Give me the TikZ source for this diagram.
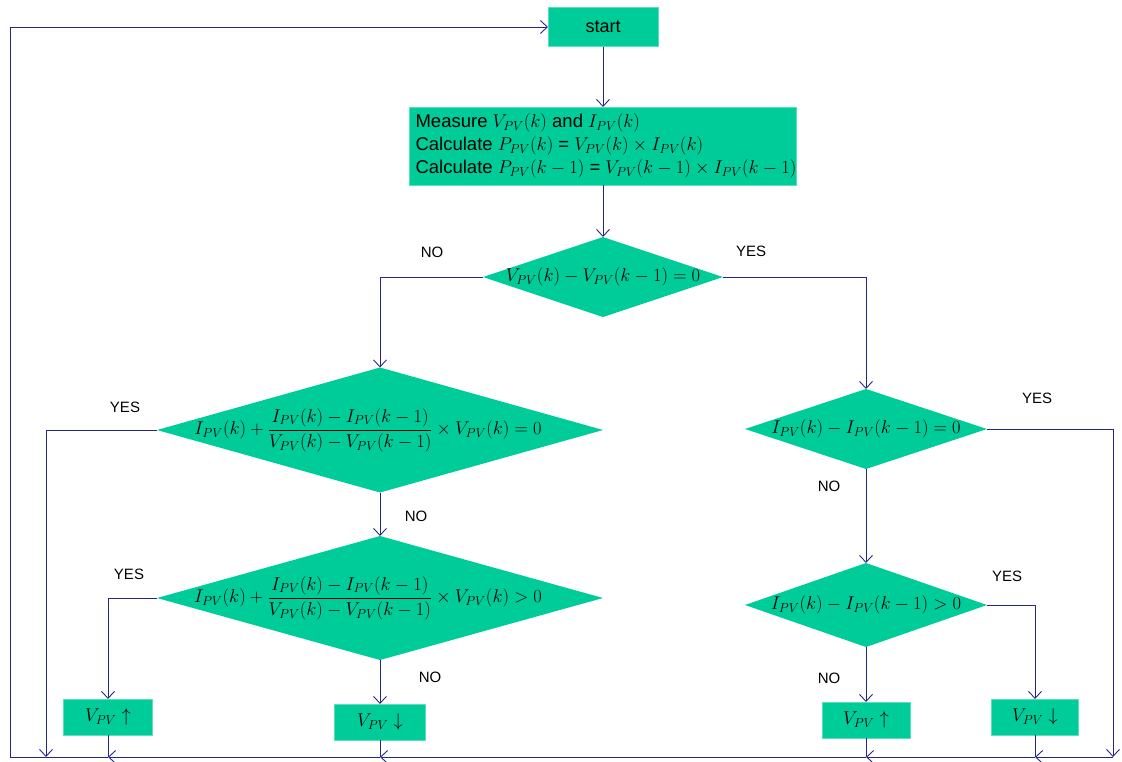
\documentclass[tikz,border=0pt]{standalone}
\usepackage{fix-cm}
\usepackage{amsmath}
\usepackage{fontspec}
\setmainfont{Liberation Sans}
\usetikzlibrary{shapes.geometric,arrows.meta}
\definecolor{boxgreen}{RGB}{0,204,153}
\definecolor{edgegreen}{RGB}{90,222,188}
\definecolor{linkblue}{RGB}{38,38,135}
\tikzset{font={\fontsize{18pt}{23pt}\selectfont}}
\tikzset{
  block/.style={fill=boxgreen, draw=edgegreen, line width=0.6pt, inner sep=0pt, outer sep=0pt},
  decide/.style={diamond, fill=boxgreen, inner sep=0pt, outer sep=0pt},
  formula/.style={font={\fontsize{18.5pt}{23pt}\selectfont}},
  link/.style={draw=linkblue, line width=0.9pt},
  flow/.style={link, -{Straight Barb[length=7pt,width=13pt]}},
  answer/.style={font={\fontsize{15pt}{18pt}\selectfont}},
}

\begin{document}
\begin{tikzpicture}[x=1pt,y=-1pt]
  \useasboundingbox (0,0) rectangle (1122,761);
  %boxes
  \node[block, minimum width=110pt, minimum height=39pt] (start) at (603,27) {start};
  \node[block, minimum width=387pt, minimum height=78pt, align=left,
    font={\fontsize{18.5pt}{23pt}\selectfont}] (meas) at (603,146)
    {\hspace*{6pt}Measure $V_{PV}(k)$ and $I_{PV}(k)$\\
     \hspace*{6pt}Calculate $P_{PV}(k)$ = $V_{PV}(k)\times I_{PV}(k)$\\
     \hspace*{6pt}Calculate $P_{PV}(k-1)$ = $V_{PV}(k-1)\times I_{PV}(k-1)$};
  \node[block, formula, minimum width=89pt, minimum height=36pt] (upL) at (108,717) {$V_{PV}\uparrow$};
  \node[block, formula, minimum width=91pt, minimum height=36pt] (downM) at (380,722) {$V_{PV}\downarrow$};
  \node[block, formula, minimum width=88pt, minimum height=36pt] (upR) at (866,720) {$V_{PV}\uparrow$};
  \node[block, formula, minimum width=87pt, minimum height=36pt] (downR) at (1035,717) {$V_{PV}\downarrow$};
  %decisions
  \node[decide, minimum width=240pt, minimum height=80pt,
    label={[formula]center:{$V_{PV}(k)-V_{PV}(k-1)=0$}}] (dV) at (603,277) {};
  \node[decide, minimum width=446pt, minimum height=125pt,
    label={[formula, xshift=-12pt]center:{$I_{PV}(k)+\dfrac{I_{PV}(k)-I_{PV}(k-1)}{V_{PV}(k)-V_{PV}(k-1)}\times V_{PV}(k)=0$}}] (dInc) at (380,430) {};
  \node[decide, minimum width=446pt, minimum height=124pt,
    label={[formula, xshift=-12pt]center:{$I_{PV}(k)+\dfrac{I_{PV}(k)-I_{PV}(k-1)}{V_{PV}(k)-V_{PV}(k-1)}\times V_{PV}(k)>0$}}] (dGt) at (380,598) {};
  \node[decide, minimum width=242pt, minimum height=80pt,
    label={[formula]center:{$I_{PV}(k)-I_{PV}(k-1)=0$}}] (dI) at (866,429) {};
  \node[decide, minimum width=242pt, minimum height=84pt,
    label={[formula]center:{$I_{PV}(k)-I_{PV}(k-1)>0$}}] (dIgt) at (866,605) {};
  %joints on the bottom line
  \coordinate (j0) at (10,757);
  \coordinate (jYes) at (46,757);
  \coordinate (jL) at (108,757);
  \coordinate (jM) at (380,757);
  \coordinate (jR) at (866,757);
  \coordinate (jRR) at (1035,757);
  \coordinate (jEnd) at (1113,757);
  %connectors
  \draw[flow] (start) -- (meas);
  \draw[flow] (meas) -- (dV);
  \draw[flow] (dV.west) -| (dInc.north);
  \draw[flow] (dV.east) -| (dI.north);
  \draw[flow] (dInc) -- (dGt);
  \draw[flow] (dInc.west) -| (jYes);
  \draw[flow] (dGt.west) -| (upL.north);
  \draw[flow] (dGt) -- (downM);
  \draw[flow] (dI) -- (dIgt);
  \draw[flow] (dI.east) -| (jEnd);
  \draw[flow] (dIgt.east) -| (downR.north);
  \draw[flow] (dIgt) -- (upR);
  %return line
  \draw[flow] (jEnd) -- (jRR);
  \draw[link] (downR) -- (jRR);
  \draw[flow] (jRR) -- (jR);
  \draw[link] (upR) -- (jR);
  \draw[flow] (jR) -- (jM);
  \draw[link] (downM) -- (jM);
  \draw[flow] (jM) -- (jL);
  \draw[link] (upL) -- (jL);
  \draw[flow] (jL) -- (j0) |- (start.west);
  %labels
  \node[answer] (noV) at (432,252) {NO};
  \node[answer] (yesV) at (751,251) {YES};
  \node[answer] (yesInc) at (125,407) {YES};
  \node[answer] (noInc) at (416,516) {NO};
  \node[answer] (yesGt) at (129,574) {YES};
  \node[answer] (noGt) at (430,677) {NO};
  \node[answer] (yesI) at (1037,398) {YES};
  \node[answer] (noI) at (829,486) {NO};
  \node[answer] (yesIgt) at (1007,576) {YES};
  \node[answer] (noIgt) at (829,678) {NO};
\end{tikzpicture}
\end{document}
